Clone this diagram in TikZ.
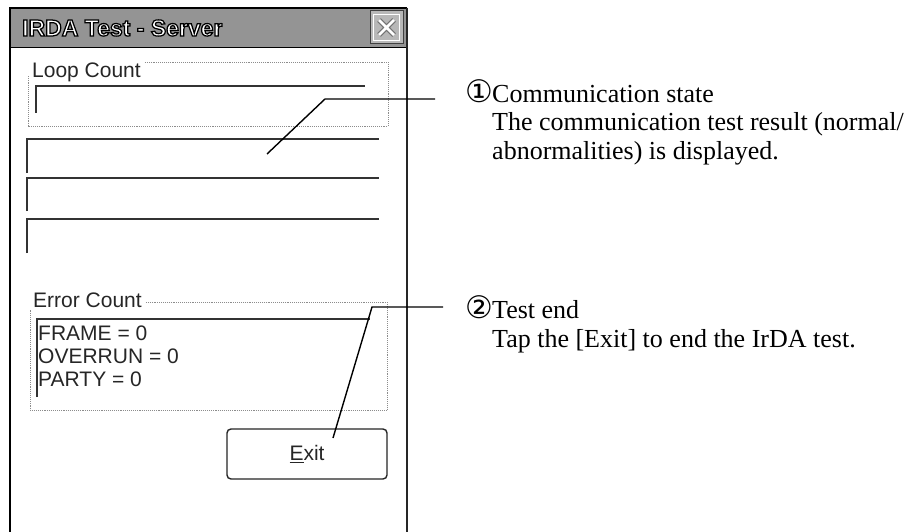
\documentclass[tikz,border=0pt]{standalone}
\usepackage{fontspec}
\setmainfont{Liberation Serif}
\newfontfamily\uisans{Liberation Sans}
\newfontfamily\circfont{DejaVu Sans}
\newcommand{\outlinetext}[1]{\special{pdf:literal direct 0 G 2 Tr 1.25 w}#1\special{pdf:literal direct 0 Tr}}
\begin{document}
\begin{tikzpicture}[x=1pt,y=-1pt,
  winline/.style={line width=2.2pt, black},
  tbox/.style={line width=1.3pt, black!80},
  grp/.style={black!45, densely dotted, line width=0.9pt},
  leader/.style={line width=1.4pt, black},
  uitext/.style={font=\uisans\fontsize{21}{24}\selectfont, inner sep=0pt, anchor=base west, text=black!85},
  titletext/.style={font=\uisans\bfseries\fontsize{23}{26}\selectfont, inner sep=0pt, anchor=west},
  note/.style={font=\fontsize{26}{30}\selectfont, inner sep=0pt, anchor=base west},
  btn/.style={draw=black!85, line width=1.4pt, rounded corners=4pt, minimum width=160pt, minimum height=50pt, font=\uisans\fontsize{21}{24}\selectfont, text=black!85}]
\fill[white] (0,0) rectangle (915,532);
\useasboundingbox (0,0) rectangle (915,532);
% window frame and title bar
\fill[black!42] (10,8) rectangle (407,48);
\draw[black, line width=1pt] (10,48) -- (407,48);
\draw[winline] (10,532) -- (10,8) -- (407,8);
\draw[line width=2pt, black!85] (407,8) -- (407,532);
\node[titletext, text=white] (title) at (22,28) {\outlinetext{IRDA Test - Server}};
% close button
\draw[line width=1pt, black!75, fill=black!28] (370,11) rectangle (403,44);
\draw[line width=1.5pt, white] (373.5,14.5) rectangle (399.5,40.5);
\draw[line width=5pt, black!55] (379,20) -- (394,35) (394,20) -- (379,35);
\draw[line width=2.6pt, white] (379,20) -- (394,35) (394,20) -- (379,35);
% Loop Count group
\node[uitext] (loopl) at (32,78) {Loop Count};
\draw[grp] ([xshift=4pt]loopl.east |- 0,62) -- (388,62) -- (388,126) -- (28,126) -- (28,76);
\draw[tbox] (36,113) -- (36,86) -- (365,86);
\draw[tbox] (27,173) -- (27,139) -- (379,139);
\draw[tbox] (27,211) -- (27,178) -- (379,178);
\draw[tbox] (27,253) -- (27,219) -- (379,219);
% Error Count group
\node[uitext] (errl) at (33,307) {Error Count};
\draw[grp] ([xshift=4pt]errl.east |- 0,302) -- (387,302) -- (387,410) -- (30,410) -- (30,310);
\draw[tbox] (37,397) -- (37,319) -- (370,319);
\node[uitext] (frame) at (38,340) {FRAME = 0};
\node[uitext] (overrun) at (38,363) {OVERRUN = 0};
\node[uitext] (party) at (38,386) {PARTY = 0};
% Exit button
\node[btn] (exit) at (307,454) {\underline{E}xit};
% callout texts
\node[note] (n1a) at (465,103) {\makebox[27pt][l]{\circfont\fontsize{31}{30}\selectfont ①}Communication state};
\node[note] (n1b) at (492,131) {The communication test result (normal/};
\node[note] (n1c) at (492,159) {abnormalities) is displayed.};
\node[note] (n2a) at (465,318) {\makebox[27pt][l]{\circfont\fontsize{31}{30}\selectfont ②}Test end};
\node[note] (n2b) at (492,347) {Tap the [Exit] to end the IrDA test.};
% leaders
\coordinate (p1) at (267,154);
\coordinate (k1) at (325,99);
\coordinate (e1) at (435,99);
\draw[leader] (p1) -- (k1) -- (e1);
\coordinate (p2) at (333,438);
\coordinate (k2) at (372,307);
\coordinate (e2) at (443,307);
\draw[leader] (p2) -- (k2) -- (e2);
\end{tikzpicture}
\end{document}
